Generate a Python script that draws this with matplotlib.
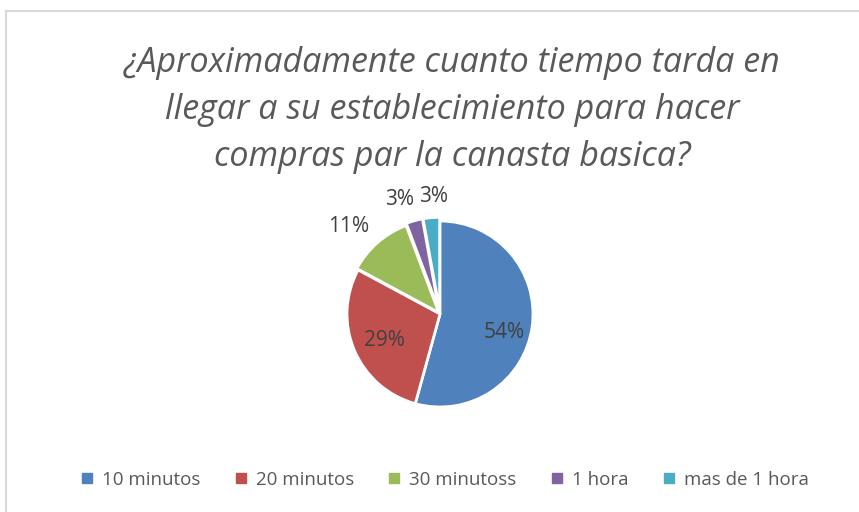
import matplotlib
matplotlib.use("Agg")
import matplotlib.pyplot as plt
from matplotlib.lines import Line2D
import numpy as np

categories = ["10 minutos", "20 minutos", "30 minutoss", "1 hora", "mas de 1 hora"]
counts = [19, 10, 4, 1, 1]
colors = ["#4F81BD", "#C0504D", "#9BBB59", "#8064A2", "#4BACC6"]
title = "¿Aproximadamente cuanto tiempo tarda en\nllegar a su establecimiento para hacer\ncompras par la canasta basica?"

W, H = 859, 512
fig = plt.figure(figsize=(W / 100, H / 100), dpi=100)
fig.patch.set_facecolor("white")

# chart border (left and top visible)
fig.add_artist(Line2D([6 / W, 6 / W], [0, 1 - 11 / H], color="#D9D9D9", lw=1.5))
fig.add_artist(Line2D([6 / W, 1], [1 - 11 / H, 1 - 11 / H], color="#D9D9D9", lw=1.5))

fig.text(452 / W, 1 - 110 / H, title, ha="center", va="center", fontsize=24.5,
         style="italic", color="#595959", family="Open Sans", linespacing=1.5)

cx, cy, r = 440, 314, 93
ax = fig.add_axes([(cx - r) / W, (H - cy - r) / H, 2 * r / W, 2 * r / H])

wedges, _ = ax.pie(counts, colors=colors, startangle=90, counterclock=False,
                   radius=1, explode=[0, 0, 0.02, 0.04, 0.04],
                   wedgeprops=dict(edgecolor="white", linewidth=2))
ax.set_xlim(-1, 1)
ax.set_ylim(-1, 1)
ax.set_aspect("equal")
ax.axis("off")

total = sum(counts)
dists = [0.72, 0.66, 1.36, 1.3, 1.26]
offsets = [-8, 2, 5, 4, -2]
for w, c, d, off in zip(wedges, counts, dists, offsets):
    ang = np.deg2rad((w.theta1 + w.theta2) / 2 + off)
    ax.text(d * np.cos(ang), d * np.sin(ang), f"{round(100 * c / total)}%",
            ha="center", va="center", fontsize=15, color="#404040",
            family="Open Sans", clip_on=False)

handles = [Line2D([], [], marker="s", linestyle="none", markersize=7,
                  markerfacecolor=col, markeredgecolor=col) for col in colors]
fig.legend(handles, categories, loc="center", bbox_to_anchor=(444 / W, 1 - 480 / H),
           ncol=5, frameon=False, handlelength=0.8, handletextpad=0.4,
           columnspacing=1.75, labelcolor="#595959", prop=dict(family="Open Sans", size=13.5))

fig.savefig("out.png", dpi=100)
